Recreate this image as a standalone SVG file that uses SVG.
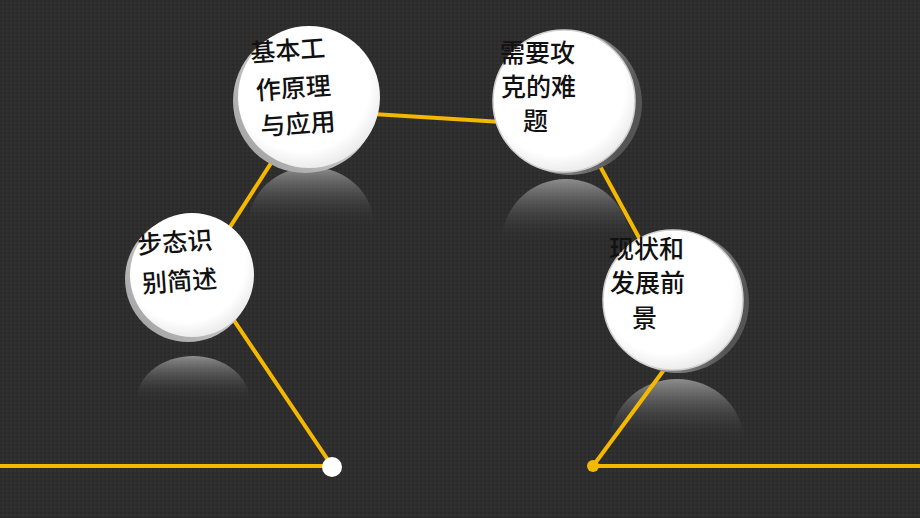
<svg xmlns="http://www.w3.org/2000/svg" width="920" height="518" viewBox="0 0 920 518">
<defs>
<pattern id="tex" width="4" height="4" patternUnits="userSpaceOnUse">
<rect width="4" height="4" fill="#2e2e2e"/>
<rect width="2" height="2" fill="#2a2a2a"/>
<rect x="2" y="2" width="2" height="2" fill="#313131"/>
</pattern>
<linearGradient id="refl" x1="0" y1="0" x2="0" y2="1">
<stop offset="0" stop-color="#a5a5a5" stop-opacity="0.8"/>
<stop offset="0.55" stop-color="#5a5a5a" stop-opacity="0.45"/>
<stop offset="1" stop-color="#2e2e2e" stop-opacity="0"/>
</linearGradient>
<radialGradient id="face" cx="0.45" cy="0.4" r="0.6">
<stop offset="0.8" stop-color="#ffffff"/>
<stop offset="1" stop-color="#ececec"/>
</radialGradient>
<linearGradient id="rimL" x1="1" y1="0" x2="0" y2="1">
<stop offset="0" stop-color="#f2f2f2"/>
<stop offset="1" stop-color="#9a9a9a"/>
</linearGradient>
<linearGradient id="rimR" x1="0" y1="0" x2="1" y2="0.3">
<stop offset="0" stop-color="#eeeeee"/>
<stop offset="1" stop-color="#555555"/>
</linearGradient>
<style>
.ln{stroke:#f5b800;stroke-width:4;fill:none;stroke-linecap:round}
.tx{font-family:"Noto Sans CJK SC","Noto Sans",sans-serif;font-size:25px;font-weight:500;fill:#111}
.face{fill:url(#face)}
.refl{fill:url(#refl)}
</style>
</defs>
<rect width="920" height="518" fill="url(#tex)"/>

<g id="reflections">
<path class="refl" d="M136,402 A57,46 0 0 1 250,402 Z"/>
<path class="refl" d="M248,226 A63,59 0 0 1 374,226 Z"/>
<path class="refl" d="M502,242 A64,63 0 0 1 630,242 Z"/>
<path class="refl" d="M610,442 A67,63 0 0 1 744,442 Z"/>
</g>

<g id="connectors">
<line class="ln" x1="0" y1="466" x2="332" y2="466"/>
<line class="ln" x1="332" y1="466" x2="200" y2="270"/>
<line class="ln" x1="196" y1="280" x2="300" y2="118"/>
<line class="ln" x1="308" y1="110" x2="565" y2="126"/>
<line class="ln" x1="565" y1="102" x2="673" y2="300"/>
<line class="ln" x1="686" y1="340" x2="593" y2="466"/>
<line class="ln" x1="593" y1="466" x2="920" y2="466"/>
<circle cx="332" cy="467" r="10" fill="#ffffff"/>
<circle cx="593" cy="466" r="6" fill="#f5b800"/>
</g>

<g id="node-1">
<circle cx="188" cy="279" r="63" fill="url(#rimL)"/>
<circle cx="192" cy="275" r="62" class="face"/>
<g transform="rotate(-4 180 265)">
<text class="tx" x="139" y="251">步态识</text>
<text class="tx" x="141" y="290">别简述</text>
</g>
</g>

<g id="node-2">
<circle cx="305" cy="101" r="72" fill="url(#rimL)"/>
<circle cx="309" cy="97" r="71" class="face"/>
<g transform="rotate(-4 295 90)">
<text class="tx" x="253" y="59">基本工</text>
<text class="tx" x="256" y="97">作原理</text>
<text class="tx" x="258" y="133">与应用</text>
</g>
</g>

<g id="node-3">
<circle cx="570" cy="103" r="72" fill="url(#rimR)"/>
<circle cx="564" cy="101" r="71" class="face" stroke="#d0d0d0" stroke-width="1.5"/>
<text class="tx" x="500" y="62">需要攻</text>
<text class="tx" x="501" y="96">克的难</text>
<text class="tx" x="523" y="130">题</text>
</g>

<g id="node-4">
<circle cx="678" cy="302" r="71" fill="url(#rimR)"/>
<circle cx="673" cy="300" r="70" class="face" stroke="#d0d0d0" stroke-width="1.5"/>
<text class="tx" x="609" y="258">现状和</text>
<text class="tx" x="610" y="292">发展前</text>
<text class="tx" x="632" y="327">景</text>
</g>
</svg>
